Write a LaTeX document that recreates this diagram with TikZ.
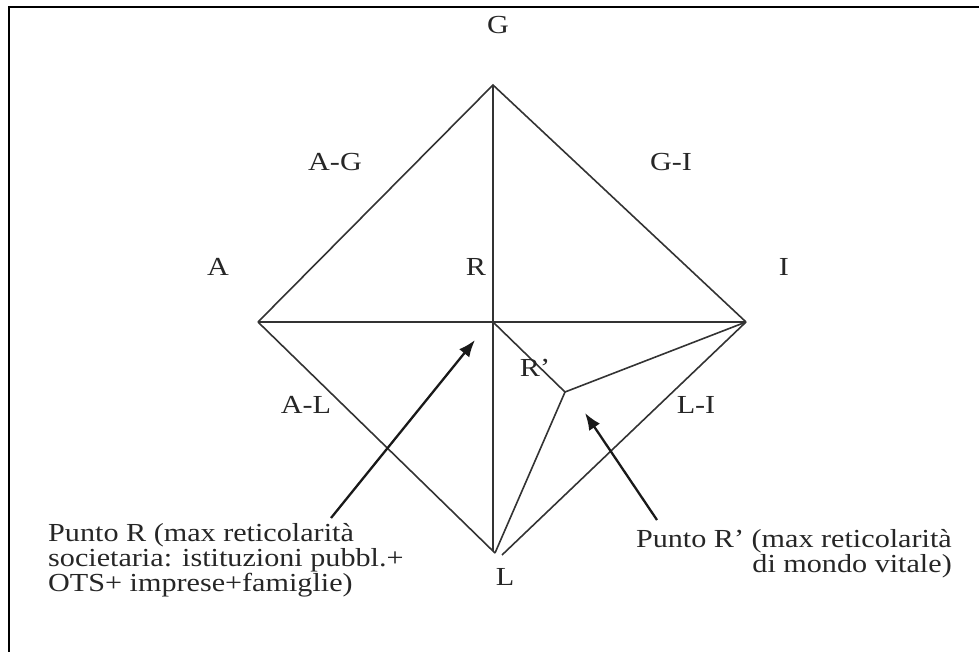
\documentclass[tikz,border=0pt]{standalone}
\usepackage{fontspec}
\setmainfont[FakeStretch=1.16]{Liberation Serif}
\usetikzlibrary{arrows.meta}
\begin{document}
\begin{tikzpicture}[x=1pt,y=-1pt,
  edge/.style={line width=1.6pt, black!80},
  pointer/.style={line width=2.3pt, black!90, -{Latex[length=17pt,width=13pt]}},
  lbl/.style={font=\fontsize{26}{21}\selectfont, inner sep=0pt, text=black!85},
]
\useasboundingbox (0,0) rectangle (979,652);
\draw[line width=2.5pt] (979,7) -- (9,7) -- (9,652);
% vertices
\coordinate (G) at (493,85);
\coordinate (A) at (258,322);
\coordinate (I) at (746,322);
\coordinate (R) at (493,322);
\coordinate (Rp) at (565,392);
\coordinate (La) at (495,553);
\coordinate (Lv) at (493,551);
\coordinate (Lr) at (502,555);
% diamond
\draw[edge] (A) -- (G) -- (I);
\draw[edge] (A) -- (I);
\draw[edge] (G) -- (Lv);
\draw[edge] (A) -- (La);
\draw[edge] (I) -- (Lr);
\draw[edge] (R) -- (Rp) -- (I);
\draw[edge] (Rp) -- (La);
% labels
\node[lbl] (lG) at (498,25) {G};
\node[lbl] (lAG) at (335,162) {A-G};
\node[lbl] (lGI) at (671,162) {G-I};
\node[lbl] (lA) at (218,267) {A};
\node[lbl] (lR) at (476,267) {R};
\node[lbl] (lI) at (784,267) {I};
\node[lbl] (lRp) at (535,368) {R’};
\node[lbl] (lAL) at (306,405) {A-L};
\node[lbl] (lLI) at (696,405) {L-I};
\node[lbl] (lL) at (505,577) {L};
\node[lbl, anchor=base west, align=left] (pR) at (48,591)
  {Punto R (max reticolarità\\societaria: istituzioni pubbl.+\\OTS+ imprese+famiglie)};
\node[lbl, anchor=base east, align=right] (pRp) at (952,572)
  {Punto R’ (max reticolarità\\di mondo vitale)};
% arrows
\coordinate (t1) at (331,518);
\coordinate (h1) at (475,340);
\coordinate (t2) at (657,520);
\coordinate (h2) at (585,413);
\draw[pointer] (t1) -- (h1);
\draw[pointer] (t2) -- (h2);
\end{tikzpicture}
\end{document}
